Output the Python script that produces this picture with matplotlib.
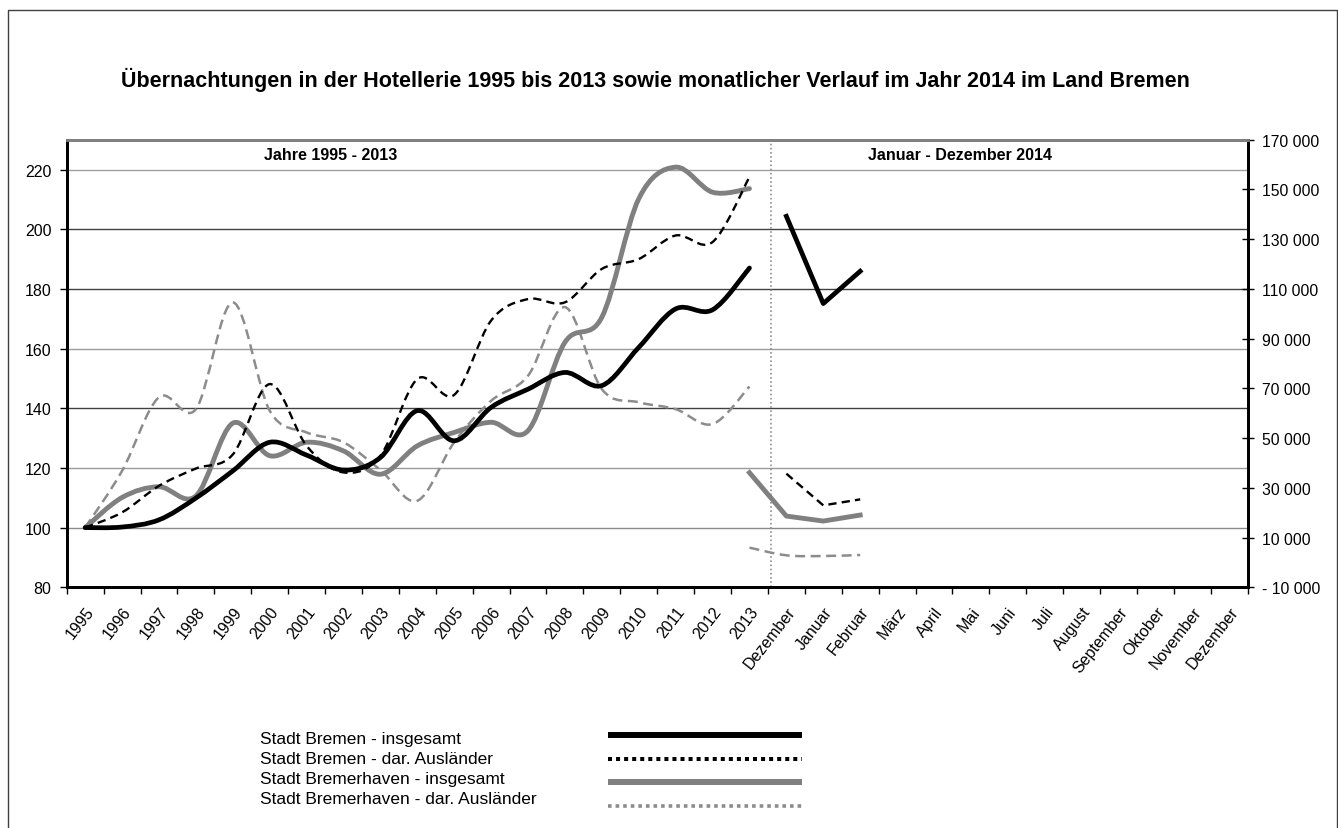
"""
Übernachtungen in der Hotellerie, Land Bremen: yearly index 1995-2013 + monthly 2014
"""
import matplotlib
matplotlib.use('Agg')
import matplotlib.pyplot as plt
import numpy as np
from matplotlib.path import Path
from matplotlib.patches import PathPatch
from matplotlib.lines import Line2D
from matplotlib.ticker import FuncFormatter, FixedLocator

plt.rcParams['font.family'] = ['Liberation Sans', 'DejaVu Sans']

# --- data -------------------------------------------------------------
years = ['1995', '1996', '1997', '1998', '1999', '2000', '2001', '2002', '2003',
         '2004', '2005', '2006', '2007', '2008', '2009', '2010', '2011', '2012', '2013']
months = ['Dezember', 'Januar', 'Februar', 'März', 'April', 'Mai', 'Juni', 'Juli',
          'August', 'September', 'Oktober', 'November', 'Dezember']

# index 1995 = 100 (left axis)
bremen_total = [100, 100.2, 102.6, 109.9, 119.0, 128.6, 124.3, 119.3, 123.5, 139.2,
                129.1, 140.3, 146.4, 152.0, 147.6, 160.4, 173.3, 173.0, 187.0]
bremen_foreign = [100, 105.1, 114.0, 119.8, 124.5, 148.1, 127.4, 118.5, 124.1, 149.8,
                  144.5, 169.4, 176.6, 175.5, 186.7, 190.0, 197.9, 195.7, 217.5]
bhv_total = [100, 110.1, 113.7, 110.6, 135.0, 124.1, 128.6, 125.7, 117.9, 127.4,
             131.9, 135.3, 132.5, 162.1, 170.5, 210.2, 220.8, 212.4, 213.6]
bhv_foreign = [100, 119.0, 143.7, 139.7, 175.5, 139.2, 131.9, 128.6, 119.3, 109.0,
               128.6, 142.5, 150.9, 173.9, 146.4, 142.0, 139.7, 134.7, 147.3]

# monthly values (right axis)
bremen_total_m = [139200, 104100, 117100]
bremen_foreign_m = [35700, 22950, 25360]
bhv_total_m = [36100, 18650, 16640, 19050]
bhv_foreign_m = [5950, 2860, 2580, 2980]

labels = years + months

W, H = 1338, 829


def fx(px):
    return px / W


def fy(py):
    return 1 - py / H


def smooth(x, y):
    # Excel-like smoothed line: cubic Bezier through the points
    x = np.asarray(x, float)
    y = np.asarray(y, float)
    n = len(x)
    verts = [(x[0], y[0])]
    codes = [Path.MOVETO]
    for i in range(n - 1):
        a = max(i - 1, 0)
        b = min(i + 2, n - 1)
        c1 = (x[i] + (x[i + 1] - x[a]) / 6, y[i] + (y[i + 1] - y[a]) / 6)
        c2 = (x[i + 1] - (x[b] - x[i]) / 6, y[i + 1] - (y[b] - y[i]) / 6)
        verts += [c1, c2, (x[i + 1], y[i + 1])]
        codes += [Path.CURVE4] * 3
    return Path(verts, codes)


fig = plt.figure(figsize=(W / 100, H / 100), dpi=100)
ax = fig.add_axes([fx(66.7), fy(588.3), fx(1247.7) - fx(66.7), fy(140.7) - fy(588.3)])
ax2 = ax.twinx()

n = len(labels)
ax.set_xlim(-0.5, n - 0.5)
ax.set_ylim(80, 230)
ax2.set_ylim(-10000, 170000)

# gridlines (Excel renders them in alternating shades)
grid_vals = [100, 120, 140, 160, 180, 200, 220]
grid_cols = ['#8a8a8a', '#9a9a9a', '#404040', '#9a9a9a', '#404040', '#404040', '#a0a0a0']
for gv, gc in zip(grid_vals, grid_cols):
    ax.axhline(gv, color=gc, lw=1.0, zorder=1)

# separator between years and months
ax.axvline(len(years) - 0.43, color='#909090', lw=1.2, ls=(0, (1, 1.5)), zorder=2)

xy = np.arange(len(years))
grey = '#808080'
ax.add_patch(PathPatch(smooth(xy, bhv_foreign), fill=False, ec='#8c8c8c', lw=1.8,
                       ls=(0, (4, 2.2)), zorder=3))
ax.add_patch(PathPatch(smooth(xy, bhv_total), fill=False, ec=grey, lw=3.5, zorder=4,
                       capstyle='round'))
ax.add_patch(PathPatch(smooth(xy, bremen_foreign), fill=False, ec='black', lw=1.7,
                       ls=(0, (3.5, 2.2)), zorder=5))
ax.add_patch(PathPatch(smooth(xy, bremen_total), fill=False, ec='black', lw=3.4, zorder=6,
                       capstyle='round'))

# monthly 2014 on right axis
start_bhv = len(years) - 1
start_hb = len(years)
xb = np.arange(start_hb, start_hb + len(bremen_total_m))
xh = np.arange(start_bhv, start_bhv + len(bhv_total_m))
ax2.add_patch(PathPatch(smooth(xh, bhv_foreign_m), fill=False, ec='#8c8c8c', lw=1.8,
                        ls=(0, (4, 2.2)), zorder=3))
ax2.plot(xh, bhv_total_m, color=grey, lw=3.5, zorder=4)
ax2.plot(xb, bremen_foreign_m, color='black', lw=1.7, ls=(0, (3.5, 2.2)), zorder=5)
ax2.plot(xb, bremen_total_m, color='black', lw=3.4, zorder=6)

# axes styling
ax.set_yticks(np.arange(80, 221, 20))
ax.tick_params(axis='y', direction='out', length=5, width=1, labelsize=11.5, pad=6)
ax.set_xticks(np.arange(n))
ax.set_xticklabels(labels, rotation=52, ha='right', va='top', rotation_mode='anchor',
                   fontsize=11.5)
ax.xaxis.set_minor_locator(FixedLocator(np.arange(n + 1) - 0.5))
ax.tick_params(axis='x', which='major', length=0, pad=12)
ax.tick_params(axis='x', which='minor', direction='out', length=5, width=1)

ax2.set_yticks(np.arange(-10000, 170001, 20000))


def fmt(v, pos):
    s = f"{abs(v):,.0f}".replace(',', ' ')
    return ('- ' + s) if v < 0 else s


ax2.yaxis.set_major_formatter(FuncFormatter(fmt))
ax2.tick_params(axis='y', direction='inout', length=9, width=1, labelsize=11.3, pad=6)

for a in (ax, ax2):
    a.spines['top'].set_color('#808080')
    a.spines['top'].set_linewidth(2)
    for s in ('left', 'right', 'bottom'):
        a.spines[s].set_linewidth(2)
        a.spines[s].set_color('black')

ax.text(0.2235, 0.966, 'Jahre 1995 - 2013', transform=ax.transAxes, ha='center',
        va='center', fontsize=11.5, fontweight='bold')
ax.text(0.7565, 0.966, 'Januar - Dezember 2014', transform=ax.transAxes, ha='center',
        va='center', fontsize=11.5, fontweight='bold')

fig.text(fx(655), fy(80), 'Übernachtungen in der Hotellerie 1995 bis 2013 sowie monatlicher '
         'Verlauf im Jahr 2014 im Land Bremen', ha='center', va='center',
         fontsize=15.5, fontweight='bold')

# legend drawn by hand (Excel table-style legend)
leg_names = ['Stadt Bremen - insgesamt', 'Stadt Bremen - dar. Ausländer',
             'Stadt Bremerhaven - insgesamt', 'Stadt Bremerhaven - dar. Ausländer']
leg_text_y = [740, 760, 780, 800]
leg_line_y = [736, 760, 782.7, 807.3]
leg_styles = [dict(color='black', lw=4.3, ls='-'),
              dict(color='black', lw=2.9, ls=(0, (1, 1))),
              dict(color=grey, lw=4.3, ls='-'),
              dict(color='#8c8c8c', lw=2.6, ls=(0, (1, 1.1)))]
for name, ty, ly, st in zip(leg_names, leg_text_y, leg_line_y, leg_styles):
    fig.text(fx(260), fy(ty), name, ha='left', va='center', fontsize=12.5)
    fig.add_artist(Line2D([fx(608), fx(802)], [fy(ly), fy(ly)], solid_capstyle='butt',
                          dash_capstyle='butt', **st))

# outer chart frame
fig.add_artist(Line2D([fx(8), fx(8), fx(1337), fx(1337)], [0, fy(11), fy(11), 0],
                      color='#404040', lw=1.0))

plt.savefig('out.png', dpi=100)
